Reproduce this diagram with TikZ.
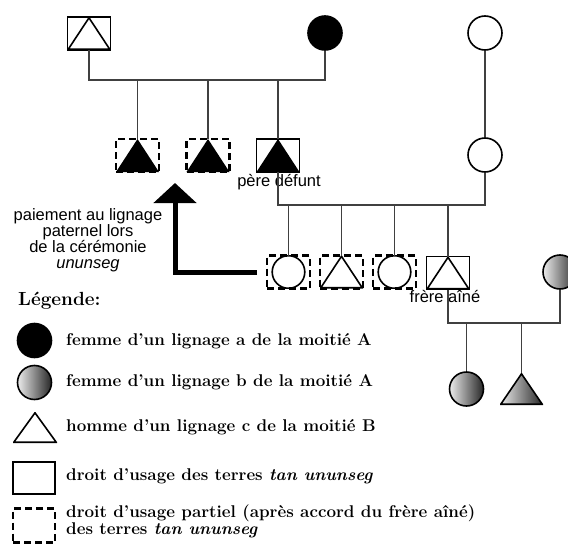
\documentclass[tikz,border=0pt]{standalone}
\usepackage{fontspec}
\newfontfamily\labelfont{Liberation Sans}
\usetikzlibrary{arrows.meta}

\tikzset{
    kin/.style={minimum width=43pt, minimum height=33pt, inner sep=0pt, outer sep=0pt, line width=1.8pt},
    landbox/.style={kin, draw},
    partbox/.style={kin, draw, line width=2.1pt, dash pattern=on 7pt off 4pt},
    manshape/.style={path picture={\draw[solid, line width=1.6pt] ([shift={(0.8pt,0.8pt)}]path picture bounding box.south west) -- ([yshift=-0.8pt]path picture bounding box.north) -- ([shift={(-0.8pt,0.8pt)}]path picture bounding box.south east) -- cycle;}},
    deadman/.style={path picture={\fill (path picture bounding box.south west) -- (path picture bounding box.north) -- (path picture bounding box.south east) -- cycle;}},
    grayman/.style={path picture={\shadedraw[solid, left color=gray!15, right color=black!85, line width=1.6pt] ([shift={(0.8pt,0.8pt)}]path picture bounding box.south west) -- ([yshift=-0.8pt]path picture bounding box.north) -- ([shift={(-0.8pt,0.8pt)}]path picture bounding box.south east) -- cycle;}},
    womanshape/.style={path picture={\draw[solid, line width=1.6pt] (path picture bounding box.center) circle (16.3pt);}},
    wife/.style={circle, draw, line width=1.6pt, minimum size=34pt, inner sep=0pt},
    wifeA/.style={wife, fill=black},
    wifeB/.style={wife, left color=gray!15, right color=black!85},
    kinline/.style={draw=black!75, line width=1.6pt},
    payarrow/.style={line width=5pt, -{Triangle[width=42pt, length=20pt]}},
    tag/.style={font=\labelfont\fontsize{16.5}{16}\selectfont, inner sep=0pt},
    legtext/.style={font=\bfseries\fontsize{17}{14}\selectfont, anchor=west, inner sep=0pt, align=left}
}

\begin{document}
\begin{tikzpicture}[x=1pt, y=1pt]
    \useasboundingbox (0,0) rectangle (568,-546);
    % Define kin
        \node[landbox, manshape] (gf) at (89,-33.5) {};
        \node[wifeA] (gm) at (325,-33) {};
        \node[wife] (ggm) at (485,-33) {};
        \node[partbox, deadman] (u1) at (137.5,-155.5) {};
        \node[partbox, deadman] (u2) at (208,-155.5) {};
        \node[landbox, deadman] (pd) at (278,-155.5) {};
        \node[tag] (pdlab) at (279,-182) {père défunt};
        \node[wife] (mo) at (485,-155) {};
        \node[partbox, womanshape] (s1) at (288.5,-272) {};
        \node[partbox, manshape] (s2) at (341.5,-272) {};
        \node[partbox, womanshape] (s3) at (394.5,-272) {};
        \node[landbox, manshape] (fa) at (448,-273) {};
        \node[tag] (falab) at (445,-297) {frère aîné};
        \node[wifeB] (fw) at (560,-272) {};
        \node[wifeB] (gc1) at (466.5,-389) {};
        \node[kin, grayman, minimum height=32pt] (gc2) at (521.5,-389) {};
        \coordinate (m1) at (89,-80);
        \coordinate (m2) at (278,-205);
        \coordinate (m3) at (448,-323);
        % Draw kin lines
        \draw[kinline] (gf.south) -- (gf.south |- m1) -| (gm.south);
        \foreach \c in {u1,u2,pd}
            \draw[kinline] (\c.north) -- (\c.north |- m1);
        \draw[kinline] (ggm.south) -- (mo.north);
        \draw[kinline] (pd.south) -- (m2) -| (mo.south);
        \foreach \c in {s1,s2,s3,fa}
            \draw[kinline] (\c.north) -- (\c.north |- m2);
        \draw[kinline] (fa.south) -- (m3) -| (fw.south);
        \foreach \c in {gc1,gc2}
            \draw[kinline] (\c.north) -- (\c.north |- m3);
        % Draw payment arrow
        \coordinate (tip) at (175,-183);
        \draw[payarrow] ([xshift=-10pt]s1.west) -| (tip);
        \node[tag, align=center] (paylab) at (88,-240.5) {paiement au lignage\\paternel lors\\de la cérémonie\\\textit{ununseg}};
        % Legend
        \node[font=\bfseries\fontsize{19}{19}\selectfont, anchor=west, inner sep=0pt] (leg) at (18,-301) {Légende:};
        \node[wifeA] (k1) at (34.5,-340.5) {};
        \node[wifeB] (k2) at (34.5,-382.5) {};
        \node[kin, manshape, minimum width=44pt, minimum height=31pt] (k3) at (35,-427.5) {};
        \node[landbox, minimum width=42pt, minimum height=32pt] (k4) at (34,-478) {};
        \node[partbox, minimum width=42pt, minimum height=34pt] (k5) at (34,-525.5) {};
        \node[legtext] (t1) at (66,-341) {femme d'un lignage a de la moitié A};
        \node[legtext] (t2) at (66,-382) {femme d'un lignage b de la moitié A};
        \node[legtext] (t3) at (66,-427) {homme d'un lignage c de la moitié B};
        \node[legtext] (t4) at (66,-476) {droit d'usage des terres \textit{tan ununseg}};
        \node[legtext] (t5) at (66,-521) {droit d'usage partiel (après accord du frère aîné)\\des terres \textit{tan ununseg}};
\end{tikzpicture}
\end{document}
